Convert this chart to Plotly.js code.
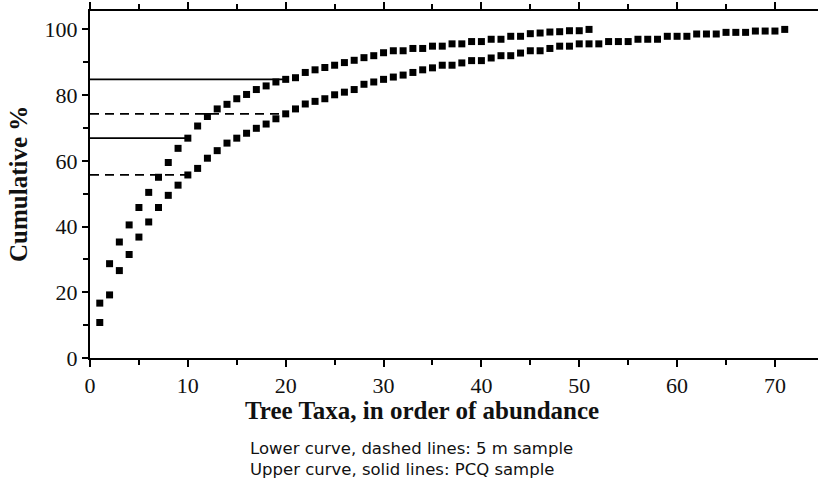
<!DOCTYPE html>
<html>
<head>
<meta charset="utf-8">
<script src="https://cdn.plot.ly/plotly-3.0.1.min.js"></script>
<style>
html,body{margin:0;padding:0;background:#fff;}
#chart{width:818px;height:483px;}
</style>
</head>
<body>
<div id="chart"></div>
<script>
// Rank of taxon (order of abundance)
var pcqRank = [1,2,3,4,5,6,7,8,9,10,11,12,13,14,15,16,17,18,19,20,21,22,23,24,25,26,27,28,29,30,31,32,33,34,35,36,37,38,39,40,41,42,43,44,45,46,47,48,49,50,51];
// Upper curve: PCQ sample, cumulative %
var pcqCum = [16.7,28.7,35.3,40.5,45.8,50.4,55.0,59.5,63.8,66.9,
              70.6,73.5,75.8,77.2,78.9,80.2,81.7,82.8,84.0,84.8,
              85.3,86.9,87.7,88.4,89.1,89.9,90.6,91.4,92.0,92.9,
              93.5,93.5,94.2,94.2,94.9,94.9,95.6,95.6,96.3,96.3,
              97.0,97.0,97.9,97.9,98.7,98.9,99.2,99.3,99.6,99.6,100];

var fiveMRank = [1,2,3,4,5,6,7,8,9,10,11,12,13,14,15,16,17,18,19,20,21,22,23,24,25,26,27,28,29,30,31,32,33,34,35,36,37,38,39,40,41,42,43,44,45,46,47,48,49,50,51,52,53,54,55,56,57,58,59,60,61,62,63,64,65,66,67,68,69,70,71];
// Lower curve: 5 m sample, cumulative %
var fiveMCum = [10.8,19.2,26.6,31.5,36.8,41.4,45.8,49.5,52.6,55.7,
                57.7,60.8,63.1,65.4,66.9,68.4,69.9,71.2,72.8,74.3,
                75.8,77.3,78.1,78.9,80.1,80.9,81.7,83.3,84.0,84.8,
                85.5,86.1,86.9,87.7,88.3,89.1,89.1,89.8,90.5,90.5,
                91.3,92.0,92.0,92.8,93.5,93.5,94.2,94.9,94.9,95.6,
                95.6,95.6,96.3,96.3,96.3,97.0,97.0,97.0,97.9,97.9,
                97.9,98.6,98.6,98.6,99.1,99.1,99.1,99.5,99.5,99.5,100];

// Reference ranks marked by horizontal lines
var refRanks = [10, 20];

var xTitle = "Tree Taxa, in order of abundance";
var yTitle = "Cumulative %";
var captionLines = ["Lower curve, dashed lines: 5 m sample", "Upper curve, solid lines: PCQ sample"];

// ---- build traces ----
var traces = [];
function refLine(rank, ranks, vals, dash) {
  var v = vals[ranks.indexOf(rank)];
  return {x:[0, rank], y:[v, v], mode:'lines', type:'scatter',
          line:{color:'#000', width:1.8, dash:dash},
          hoverinfo:'skip', showlegend:false};
}
refRanks.forEach(function(r){
  traces.push(refLine(r, pcqRank, pcqCum, 'solid'));
  traces.push(refLine(r, fiveMRank, fiveMCum, '9px,6px'));
});
traces.push({x:pcqRank, y:pcqCum, mode:'markers', type:'scatter', name:'PCQ sample',
  marker:{symbol:'square', size:7, color:'#000'}, showlegend:false});
traces.push({x:fiveMRank, y:fiveMCum, mode:'markers', type:'scatter', name:'5 m sample',
  marker:{symbol:'square', size:7, color:'#000'}, showlegend:false});

var W = 818, H = 483;
var L = 90, R = 0, T = 11, B = 125;
function px(xp){ return (xp - L) / (W - L - R); }
function py(yp){ return (H - B - yp) / (H - T - B); }

var serif = 'Liberation Serif, serif';
var sans = 'DejaVu Sans, sans-serif';

var layout = {
  width: W, height: H,
  margin: {l:L, r:R, t:T, b:B, pad:0},
  paper_bgcolor:'#fff', plot_bgcolor:'#fff',
  showlegend:false,
  xaxis: {
    range:[0, 74.4], tickmode:'linear', tick0:0, dtick:10,
    showgrid:false, zeroline:false, showline:true, linecolor:'#000', linewidth:2,
    mirror:'ticks', ticks:'outside', ticklen:7, tickwidth:2, tickcolor:'#000',
    minor:{dtick:5, ticks:'outside', ticklen:5, tickwidth:2, tickcolor:'#000'},
    tickfont:{family:serif, size:22, color:'#111'}
  },
  yaxis: {
    range:[0, 105.6], tickmode:'linear', tick0:0, dtick:20,
    showgrid:false, zeroline:false, showline:true, linecolor:'#000', linewidth:2,
    ticks:'outside', ticklen:6, tickwidth:2, tickcolor:'#000',
    minor:{dtick:10, ticks:'outside', ticklen:5, tickwidth:2, tickcolor:'#000'},
    tickfont:{family:serif, size:22, color:'#111'}
  },
  annotations: [
    {xref:'paper', yref:'paper', x:px(422), y:py(410), text:'<b>'+xTitle+'</b>', showarrow:false,
     xanchor:'center', yanchor:'middle', font:{family:serif, size:25, color:'#111'}},
    {xref:'paper', yref:'paper', x:px(18), y:py(184), text:'<b>'+yTitle+'</b>', showarrow:false,
     textangle:-90, xanchor:'center', yanchor:'middle', font:{family:serif, size:25, color:'#111'}},
    {xref:'paper', yref:'paper', x:px(248), y:py(459), text:captionLines.join('<br>'), showarrow:false,
     xanchor:'left', yanchor:'middle', align:'left', font:{family:sans, size:16.5, color:'#111'}}
  ]
};

Plotly.newPlot('chart', traces, layout, {staticPlot:true, displayModeBar:false});
</script>
</body>
</html>
